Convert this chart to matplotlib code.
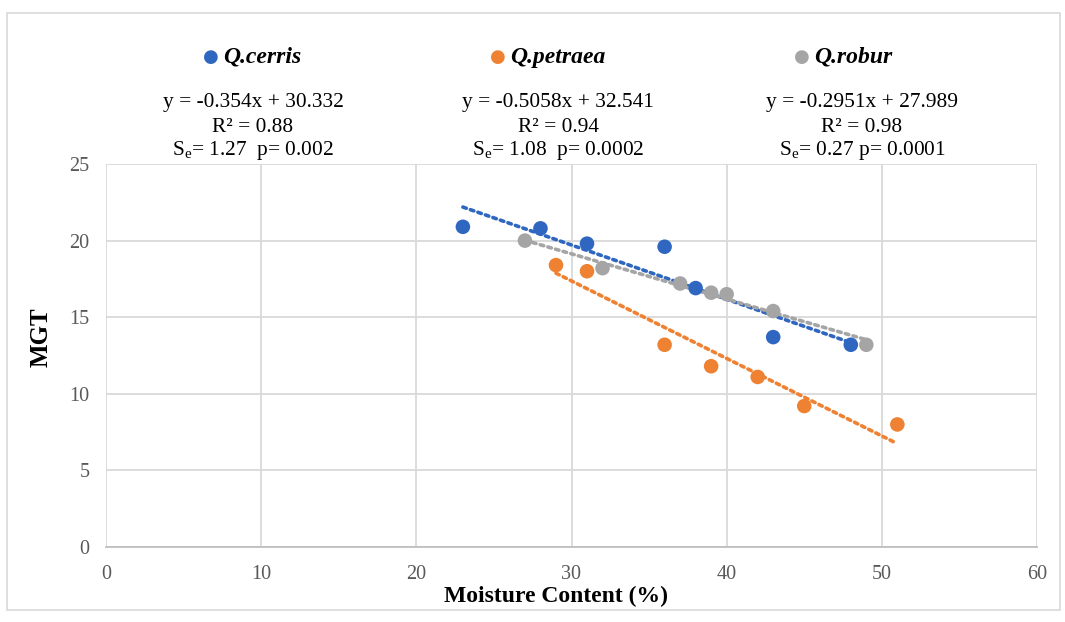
import matplotlib
matplotlib.use("Agg")
import matplotlib.pyplot as plt
import numpy as np

plt.rcParams['font.family'] = ['Liberation Serif', 'DejaVu Serif']
plt.rcParams['mathtext.fontset'] = 'custom'
plt.rcParams['mathtext.rm'] = 'Liberation Serif'
plt.rcParams['mathtext.it'] = 'Liberation Serif:italic'

species = ["Q.cerris", "Q.petraea", "Q.robur"]
colors = ["#2F67C0", "#EE8232", "#A5A5A5"]

cerris_x = [23, 28, 31, 36, 38, 43, 48]
cerris_y = [20.9, 20.8, 19.8, 19.6, 16.9, 13.7, 13.2]
petraea_x = [29, 31, 36, 39, 42, 45, 51]
petraea_y = [18.4, 18.0, 13.2, 11.8, 11.1, 9.2, 8.0]
robur_x = [27, 32, 37, 39, 40, 43, 49]
robur_y = [20.0, 18.2, 17.2, 16.6, 16.5, 15.4, 13.2]

slopes = [-0.354, -0.5058, -0.2951]
intercepts = [30.332, 32.541, 27.989]
line_ranges = [(23, 48), (29, 50.8), (27, 49)]
eq_texts = ["y = -0.354x + 30.332", "y = -0.5058x + 32.541", "y = -0.2951x + 27.989"]
r2_texts = ["R\u00b2 = 0.88", "R\u00b2 = 0.94", "R\u00b2 = 0.98"]
se_texts = ["S$_\\mathregular{e}$= 1.27  p= 0.002", "S$_\\mathregular{e}$= 1.08  p= 0.0002",
            "S$_\\mathregular{e}$= 0.27 p= 0.0001"]

xticks = [0, 10, 20, 30, 40, 50, 60]
yticks = [0, 5, 10, 15, 20, 25]

W, H = 1065, 622
fig = plt.figure(figsize=(W / 100, H / 100), dpi=100)
ax = fig.add_axes([106 / W, 1 - 547 / H, (1037 - 106) / W, (547 - 164) / H])

xs = [cerris_x, petraea_x, robur_x]
ys = [cerris_y, petraea_y, robur_y]

for i in range(3):
    x0, x1 = line_ranges[i]
    lx = np.array([x0, x1])
    ax.plot(lx, slopes[i] * lx + intercepts[i], linestyle=(0, (1, 1.2)), lw=2.6,
            color=colors[i], zorder=2, dash_capstyle='round')
for i in range(3):
    ax.scatter(xs[i], ys[i], s=110, color=colors[i], zorder=3, edgecolors='none')

ax.set_xlim(0, 60)
ax.set_ylim(0, 25)
ax.set_xticks(xticks)
ax.set_yticks(yticks)
ax.grid(True, color='#D9D9D9', lw=1.3)
ax.set_axisbelow(True)
for s in ['top', 'right', 'left']:
    ax.spines[s].set_visible(False)
ax.spines['bottom'].set_color('#BFBFBF')
ax.spines['bottom'].set_linewidth(1.3)
ax.tick_params(length=0, labelsize=14.5, labelcolor='#595959')
ax.tick_params(axis='x', pad=13)
ax.tick_params(axis='y', pad=12)

fig.text(556 / W, 1 - 596 / H, "Moisture Content (%)", fontsize=17, fontweight='bold',
         ha='center', va='center')
fig.text(41 / W, 1 - 337 / H, "MGT", fontsize=18, fontweight='bold', rotation=90,
         ha='center', va='center')

# legend-like header
leg_marker_x = [211, 498, 802]
for i in range(3):
    fig.text(leg_marker_x[i] / W, 1 - 57 / H, "\u25CF", color=colors[i], fontsize=13,
             ha='center', va='center', family='DejaVu Sans')
    fig.text((leg_marker_x[i] + 12) / W, 1 - 57 / H, species[i], fontsize=17,
             fontweight='bold', style='italic', ha='left', va='center')

eq_cx = [253, 558, 862]
for i in range(3):
    fig.text(eq_cx[i] / W, 1 - 103 / H, eq_texts[i], fontsize=15.4, ha='center', va='center')
    fig.text(eq_cx[i] / W, 1 - 128 / H, r2_texts[i], fontsize=15.4, ha='center', va='center')
    fig.text(eq_cx[i] / W, 1 - 151 / H, se_texts[i], fontsize=15.4, ha='center', va='center')

# chart border
border = plt.Rectangle((7 / W, 1 - 610 / H), (1060 - 7) / W, (610 - 13) / H,
                       transform=fig.transFigure, fill=False, edgecolor='#D9D9D9', lw=1.2)
fig.patches.append(border)

fig.savefig("out.png", dpi=100)
